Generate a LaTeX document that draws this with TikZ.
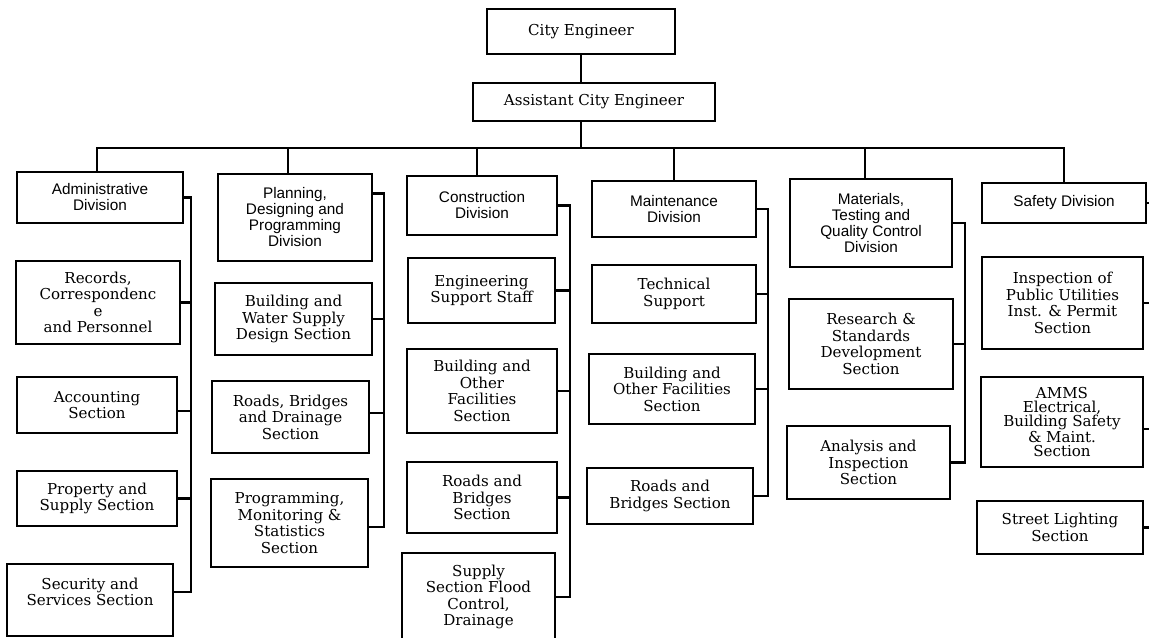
\documentclass[tikz,border=0pt]{standalone}
\usepackage{fontspec}
\newfontfamily\secfont{DejaVu Serif}
\newfontfamily\divfont{Liberation Sans}
% #1 style, #2 name, #3..#6 corners (x1,y1,x2,y2), #7 text
\newcommand\orgbox[7]{%
  \node[#1, minimum width={(#5-#3)*0.75pt}, minimum height={(#6-#4)*0.75pt}]
    (#2) at ({(#3+#5)/2},{(#4+#6)/2}) {#7};}
\begin{document}
\begin{tikzpicture}[x=0.75pt,y=-0.75pt,
  box/.style={draw, line width=1.6pt, inner sep=0pt, align=center},
  secbox/.style={box, font={\secfont\fontsize{11.3}{12.4}\selectfont}},
  tightbox/.style={box, font={\secfont\fontsize{11.3}{10}\selectfont}},
  divbox/.style={box, font={\divfont\fontsize{11.5}{12}\selectfont}},
  link/.style={line width=1.6pt}]
\useasboundingbox (0,0) rectangle (1149,637);

% top of the chart
\orgbox{secbox}{ce}{487}{9}{675}{54}{City Engineer}
\orgbox{secbox}{ace}{473}{83}{715}{121}{Assistant City Engineer}

% divisions
\orgbox{divbox}{adm}{17}{172}{183}{223}{Administrative\\Division}
\orgbox{divbox}{pln}{218}{174}{372}{261}{Planning,\\Designing and\\Programming\\Division}
\orgbox{divbox}{con}{407}{176}{557}{235}{Construction\\Division}
\orgbox{divbox}{mnt}{592}{181}{756}{237}{Maintenance\\Division}
\orgbox{divbox}{mat}{790}{179}{952}{267}{Materials,\\Testing and\\Quality Control\\Division}
\orgbox{divbox}{saf}{982}{183}{1146}{223}{Safety Division}

% administrative sections
\orgbox{secbox}{rec}{16}{261}{180}{344}{Records,\\Correspondenc\\e\\and Personnel}
\orgbox{secbox}{acc}{17}{377}{177}{433}{Accounting\\Section}
\orgbox{secbox}{prp}{17}{471}{177}{526}{Property and\\Supply Section}
\orgbox{secbox}{sec}{7}{564}{173}{636}{Security and\\Services Section\\~}

% planning sections
\orgbox{secbox}{bws}{215}{283}{372}{355}{Building and\\Water Supply\\Design Section}
\orgbox{secbox}{rbd}{212}{381}{369}{453}{Roads, Bridges\\and Drainage\\Section}
\orgbox{secbox}{pms}{211}{479}{368}{567}{Programming,\\Monitoring \&\\Statistics\\Section}

% construction sections
\orgbox{secbox}{ess}{408}{258}{555}{323}{Engineering\\Support Staff}
\orgbox{secbox}{bof}{407}{349}{557}{433}{Building and\\Other\\Facilities\\Section}
\orgbox{secbox}{rbs}{407}{462}{557}{533}{Roads and\\Bridges\\Section}
\orgbox{secbox}{sup}{402}{553}{555}{641}{Supply\\Section Flood\\Control,\\Drainage}

% maintenance sections
\orgbox{secbox}{tsp}{592}{265}{756}{323}{Technical\\Support}
\orgbox{secbox}{mbo}{589}{354}{755}{424}{Building and\\Other Facilities\\Section}
\orgbox{secbox}{mrb}{587}{468}{753}{524}{Roads and\\Bridges Section}

% materials sections
\orgbox{secbox}{rsd}{789}{299}{953}{389}{Research \&\\Standards\\Development\\Section}
\orgbox{secbox}{ais}{787}{426}{950}{499}{Analysis and\\Inspection\\Section}

% safety sections
\orgbox{secbox}{ipu}{982}{257}{1143}{349}{Inspection of\\Public Utilities\\Inst. \& Permit\\Section}
\orgbox{tightbox}{amm}{981}{377}{1143}{467}{AMMS\\Electrical,\\Building Safety\\\& Maint.\\Section}
\orgbox{secbox}{stl}{977}{501}{1143}{554}{Street Lighting\\Section}

% drop points on the division tops
\coordinate (admT) at ([xshift=-2pt]adm.north);
\coordinate (plnT) at ([xshift=-5pt]pln.north);
\coordinate (conT) at ([xshift=-3.5pt]con.north);
\coordinate (mntT) at (mnt.north);
\coordinate (matT) at ([xshift=-4.5pt]mat.north);
\coordinate (safT) at (saf.north);

% main line and bus
\coordinate (bus) at (0,148);
\draw[link] (ce.south) -- (ce.south |- ace.north);
\draw[link] (ace.south -| ce.south) -- (bus -| ce.south);
\draw[link] (admT) -- (admT |- bus) -- (safT |- bus) -- (safT);
\foreach \d in {plnT,conT,mntT,matT}
  \draw[link] (\d) -- (\d |- bus);

% connector ends off the box centres
\coordinate (plnC) at ([yshift=18pt]pln.east);
\coordinate (accC) at ([yshift=-4.5pt]acc.east);
\coordinate (secC) at ([yshift=6pt]sec.east);
\coordinate (rbdC) at ([yshift=3pt]rbd.east);
\coordinate (pmsC) at ([yshift=-3pt]pms.east);
\coordinate (ammC) at ([yshift=-5pt]amm.east);

% side bars
\coordinate (barA) at (191,0);
\coordinate (barB) at (384,0);
\coordinate (barC) at (570,0);
\coordinate (barD) at (768,0);
\coordinate (barE) at (965,0);
\coordinate (barF) at (1160,0);

\draw[link] (adm.east) -| (barA |- secC) -- (secC);
\foreach \s in {rec,accC,prp}
  \draw[link] (\s.east) -- (\s.east -| barA);

\draw[link] (plnC) -| (barB |- pmsC) -- (pmsC);
\foreach \s in {bws,rbdC}
  \draw[link] (\s.east) -- (\s.east -| barB);

\draw[link] (con.east) -| (barC |- sup.east) -- (sup.east);
\foreach \s in {ess,bof,rbs}
  \draw[link] (\s.east) -- (\s.east -| barC);

\draw[link] (mnt.east) -| (barD |- mrb.east) -- (mrb.east);
\foreach \s in {tsp,mbo}
  \draw[link] (\s.east) -- (\s.east -| barD);

\draw[link] (mat.east) -| (barE |- ais.east) -- (ais.east);
\draw[link] (rsd.east) -- (rsd.east -| barE);

\foreach \s in {saf,ipu,ammC,stl}
  \draw[link] (\s.east) -- (\s.east -| barF);
\end{tikzpicture}
\end{document}
